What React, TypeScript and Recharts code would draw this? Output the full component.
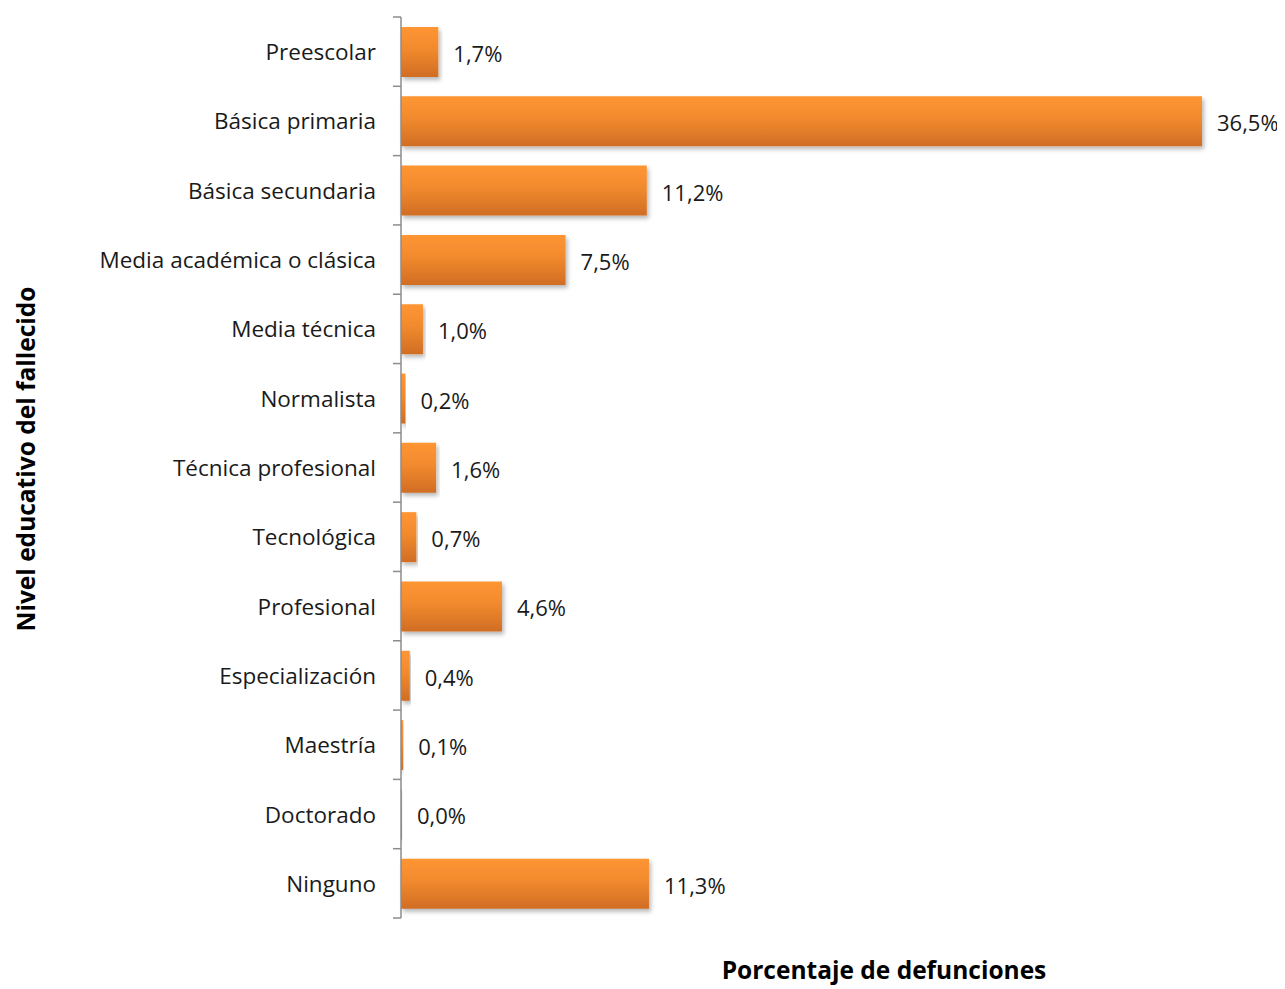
import React from 'react';
import { BarChart, Bar, XAxis, YAxis, LabelList } from 'recharts';

const niveles = [
  'Preescolar',
  'Básica primaria',
  'Básica secundaria',
  'Media académica o clásica',
  'Media técnica',
  'Normalista',
  'Técnica profesional',
  'Tecnológica',
  'Profesional',
  'Especialización',
  'Maestría',
  'Doctorado',
  'Ninguno',
];

const porcentajes = [1.7, 36.5, 11.2, 7.5, 1.0, 0.2, 1.6, 0.7, 4.6, 0.4, 0.1, 0.0, 11.3];

const chartData = niveles.map((nivel, i) => ({ nivel, valor: porcentajes[i] }));

const FONT = '"Open Sans", "Noto Sans", sans-serif';
const TOP = 9;
const PLOT_H = 901;
const BAND = PLOT_H / niveles.length;

const formatPct = (v: number) => v.toFixed(1).replace('.', ',') + '%';

// category label at the band centre, tick marks at the band edges (Excel style)
const CategoryTick = ({ x, y, payload, index }: any) => {
  const top = y - BAND / 2;
  return (
    <g>
      <line x1={x} y1={top} x2={x + 8} y2={top} stroke="#8c8c8c" strokeWidth={1.5} />
      {index === niveles.length - 1 && (
        <line x1={x} y1={top + BAND} x2={x + 8} y2={top + BAND} stroke="#8c8c8c" strokeWidth={1.5} />
      )}
      <text x={x - 17} y={y} textAnchor="end" dominantBaseline="central" fill="#1a1a1a" fontSize={22.5} fontFamily={FONT}>
        {payload.value}
      </text>
    </g>
  );
};

// value label to the right of each bar, also drawn for zero-length bars
const ValueLabel = ({ x, y, width, height, value }: any) => (
  <text
    x={Number(x) + Number(width) + 15}
    y={Number(y) + Number(height) / 2 + 1}
    dominantBaseline="central"
    fill="#1a1a1a"
    fontSize={22}
    fontFamily={FONT}
  >
    {formatPct(Number(value))}
  </text>
);

const App = () => {
  return (
    <div style={{ position: 'relative', width: 1270, height: 981, fontFamily: FONT }}>
      <BarChart
        width={1270}
        height={981}
        data={chartData}
        layout="vertical"
        margin={{ top: TOP, right: 76, bottom: 981 - TOP - PLOT_H, left: 0 }}
        barSize={50}
        style={{ overflow: 'visible' }}
      >
        <defs>
          <linearGradient id="barFill" x1="0" y1="0" x2="0" y2="1">
            <stop offset="0%" stopColor="#ff9533" />
            <stop offset="45%" stopColor="#f18a2e" />
            <stop offset="100%" stopColor="#d06d24" />
          </linearGradient>
          <filter id="barShadow" x="-5%" y="-10%" width="115%" height="140%">
            <feDropShadow dx="2" dy="3" stdDeviation="2" floodColor="#000" floodOpacity="0.28" />
          </filter>
        </defs>
        <XAxis type="number" domain={[0, 36.5]} hide />
        <YAxis
          type="category"
          dataKey="nivel"
          width={393}
          axisLine={{ stroke: '#8c8c8c', strokeWidth: 1.5 }}
          tickLine={false}
          tick={<CategoryTick />}
          interval={0}
        />
        <Bar dataKey="valor" fill="url(#barFill)" filter="url(#barShadow)" minPointSize={1} isAnimationActive={false}>
          <LabelList dataKey="valor" content={<ValueLabel />} />
        </Bar>
      </BarChart>
      <div
        style={{
          position: 'absolute',
          left: 17,
          top: 451,
          transform: 'translate(-50%, -50%) rotate(-90deg)',
          whiteSpace: 'nowrap',
          fontWeight: 700,
          fontSize: 24.5,
          color: '#000',
        }}
      >
        Nivel educativo del fallecido
      </div>
      <div
        style={{
          position: 'absolute',
          left: 876,
          top: 962,
          transform: 'translate(-50%, -50%)',
          whiteSpace: 'nowrap',
          fontWeight: 700,
          fontSize: 24.5,
          lineHeight: '30px',
          color: '#000',
        }}
      >
        Porcentaje de defunciones
      </div>
    </div>
  );
};

export default App;
